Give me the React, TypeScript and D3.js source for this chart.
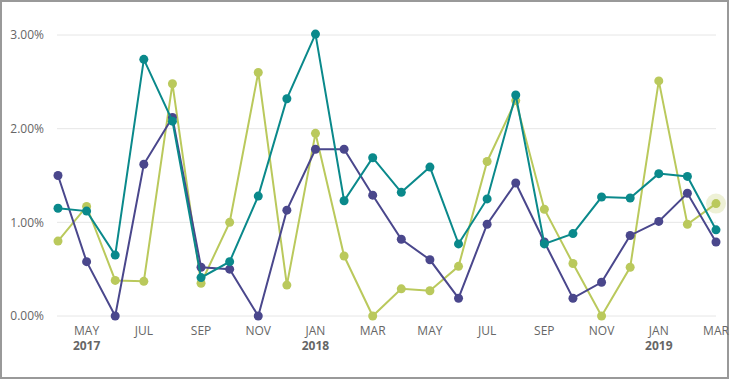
import React from "react";
import * as d3 from "d3";

const months = ["APR","MAY","JUN","JUL","AUG","SEP","OCT","NOV","DEC","JAN","FEB","MAR","APR","MAY","JUN","JUL","AUG","SEP","OCT","NOV","DEC","JAN","FEB","MAR"];
const years = ["", "2017", "", "", "", "", "", "", "", "2018", "", "", "", "", "", "", "", "", "", "", "", "2019", "", ""];
const purple = [1.50,0.58,0.00,1.62,2.12,0.52,0.50,0.00,1.13,1.78,1.78,1.29,0.82,0.60,0.19,0.98,1.42,0.79,0.19,0.36,0.86,1.01,1.31,0.79];
const teal = [1.15,1.12,0.65,2.74,2.08,0.41,0.58,1.28,2.32,3.01,1.23,1.69,1.32,1.59,0.77,1.25,2.36,0.77,0.88,1.27,1.26,1.52,1.49,0.92];
const green = [0.80,1.17,0.38,0.37,2.48,0.35,1.00,2.60,0.33,1.95,0.64,0.00,0.29,0.27,0.53,1.65,2.30,1.14,0.56,0.00,0.52,2.51,0.98,1.20];
const yTicks = [0, 1, 2, 3];

const series = [
  { name: "green", values: green, color: "#bac95c" },
  { name: "purple", values: purple, color: "#4a478c" },
  { name: "teal", values: teal, color: "#0a898b" },
];

export default function App() {
  const W = 730, H = 380;
  const x = d3.scaleLinear().domain([0, months.length - 1]).range([58, 716]);
  const y = d3.scaleLinear().domain([0, 3]).range([316, 35]);
  const line = d3.line<number>().x((_, i) => x(i)).y((d) => y(d));
  const font = "'Open Sans', sans-serif";
  const lastIdx = green.length - 1;
  return (
    <svg width={W} height={H} style={{ display: "block", position: "absolute", left: 0, top: 0 }}>
      <rect x={0} y={0} width={W} height={H} fill="#fff" />
      <rect x={1} y={1} width={727} height={377} fill="none" stroke="#999" strokeWidth={2} />
      {yTicks.map((t) => (
        <g key={t}>
          <line x1={57} x2={716} y1={y(t)} y2={y(t)} stroke="#e6e6e6" strokeWidth={1} />
          <text x={44} y={y(t)} dy="0.35em" textAnchor="end" fontFamily={font} fontSize={12} fill="#666">
            {d3.format(".2f")(t) + "%"}
          </text>
        </g>
      ))}
      {months.map((m, i) =>
        i % 2 === 1 ? (
          <g key={i}>
            <text x={x(i)} y={331} dy="0.35em" textAnchor="middle" fontFamily={font} fontSize={12} fill="#666">{m}</text>
            {years[i] && (
              <text x={x(i)} y={346} dy="0.35em" textAnchor="middle" fontFamily={font} fontSize={12} fontWeight="bold" fill="#666">{years[i]}</text>
            )}
          </g>
        ) : null
      )}
      <circle cx={x(lastIdx)} cy={y(green[lastIdx])} r={10} fill="#bac95c" opacity={0.25} />
      {series.map((s) => (
        <g key={s.name}>
          <path d={line(s.values) || ""} fill="none" stroke={s.color} strokeWidth={2} />
          {s.values.map((v, i) => (
            <circle key={i} cx={x(i)} cy={y(v)} r={4.5} fill={s.color} />
          ))}
        </g>
      ))}
    </svg>
  );
}
